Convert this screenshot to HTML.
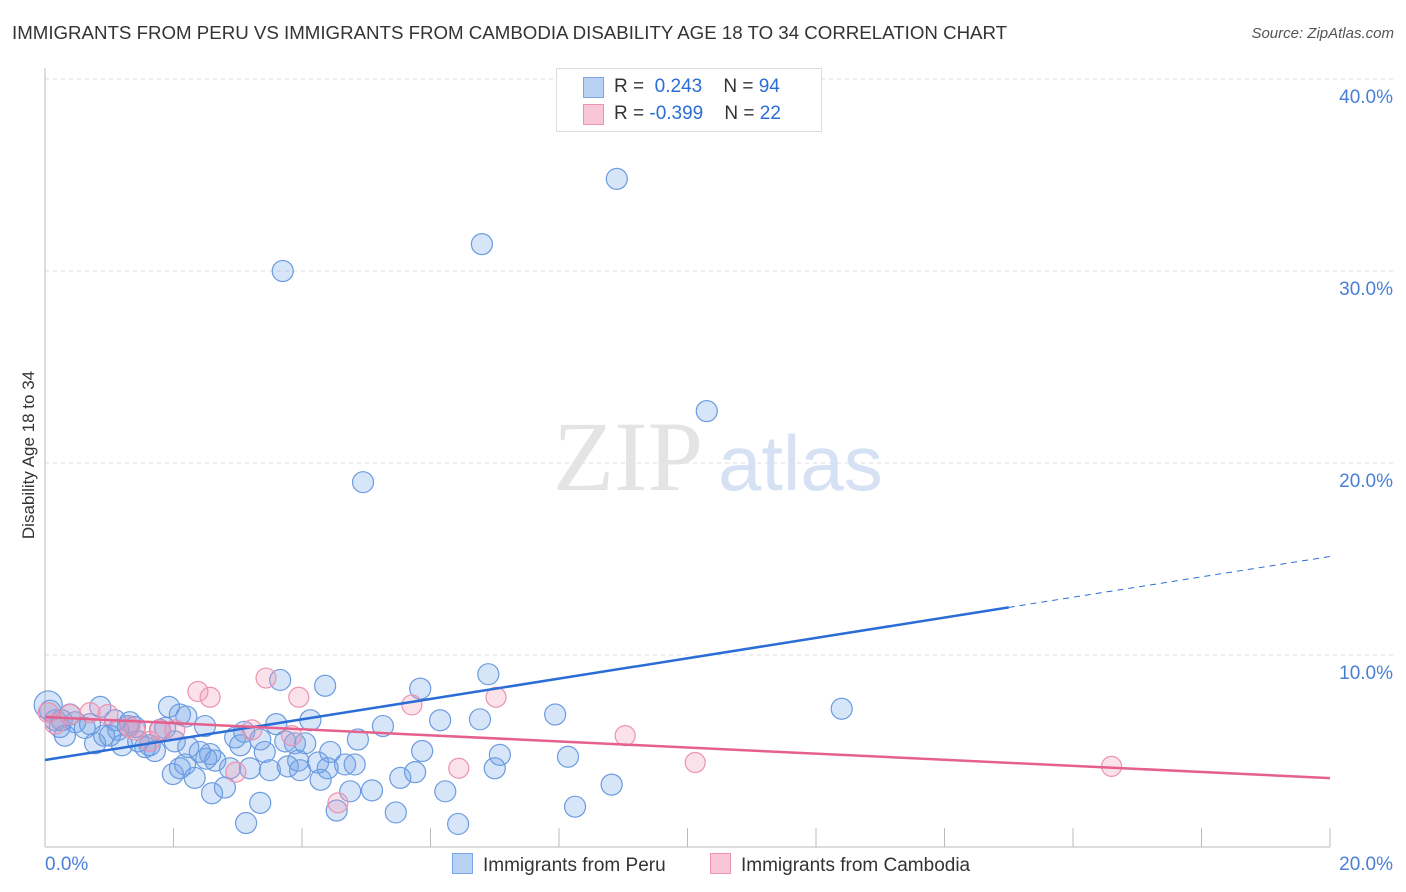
<!DOCTYPE html>
<html><head><meta charset="utf-8"><style>
body{margin:0;background:#fff;font-family:"Liberation Sans",sans-serif;}
#wrap{position:relative;width:1406px;height:892px;overflow:hidden;}
.t{position:absolute;white-space:nowrap;}
</style></head><body>
<div id="wrap">
<div class="t" style="left:12px;top:22px;font-size:18.7px;color:#333;">IMMIGRANTS FROM PERU VS IMMIGRANTS FROM CAMBODIA DISABILITY AGE 18 TO 34 CORRELATION CHART</div>
<div class="t" style="right:12px;top:25px;font-size:15px;color:#555;font-style:italic;">Source: ZipAtlas.com</div>
<svg id="svg" width="1406" height="892" style="position:absolute;left:0;top:0"></svg>
</div>
<script>
const yTicks=[10,20,30,40];
const yTickLabels=["10.0%","20.0%","30.0%","40.0%"];
const xTickLabels=["0.0%","20.0%"];
const peruX=[8.9,6.8,3.7,10.3,4.95,12.4,6.9,3.66,4.36,5.84,7.94,6.15,6.77,5.26,4.13,3.6,3.1,2.96,3.35,2.49,2.2,1.93,2.1,1.87,0.86,0.05,0.16,0.31,0.47,0.62,0.78,0.92,1.14,1.29,1.2,1.45,1.56,1.71,1.79,2.23,2.41,2.57,2.65,2.51,2.33,1.99,2.1,2.6,2.8,2.88,3.19,3.42,3.5,3.78,3.89,4.05,3.94,4.25,4.44,4.4,4.67,4.82,4.87,4.29,4.75,5.09,4.54,3.35,3.13,5.46,5.53,5.76,5.87,6.23,6.43,7.0,7.08,8.14,8.25,8.82,1.09,1.4,0.39,0.23,0.08,1.01,1.63,3.04,3.74,3.97,2.18,0.7,1.32,2.02,0.26];
const peruY=[34.8,31.4,30.0,22.7,19.0,7.2,9.0,8.7,8.4,8.25,6.9,6.6,6.65,6.3,6.6,6.4,6.0,5.7,5.6,6.3,6.8,7.3,6.9,6.2,7.3,7.4,6.6,5.8,6.5,6.2,5.4,5.8,6.1,6.3,5.3,5.5,5.2,5.0,6.1,5.2,4.95,4.84,4.5,4.6,3.6,3.8,4.1,2.8,3.1,4.1,4.1,4.95,4.0,4.2,5.4,5.4,4.5,4.4,4.95,4.1,4.3,4.3,5.6,3.5,2.9,2.95,1.9,2.3,1.25,1.8,3.6,3.9,5.0,2.9,1.2,4.1,4.8,4.7,2.1,3.25,6.6,6.25,6.9,6.25,7.1,5.8,5.3,5.3,5.5,4.0,4.3,6.4,6.5,5.5,6.6];
const cambX=[0.05,0.16,0.39,0.7,0.98,1.4,1.63,1.79,2.02,2.38,2.57,2.97,3.22,3.44,3.84,3.95,4.56,5.71,6.44,7.02,9.03,10.12,16.6,1.32];
const cambY=[7.0,6.4,6.9,7.0,6.9,6.1,5.5,6.1,6.1,8.1,7.8,3.9,6.1,8.8,5.8,7.8,2.3,7.4,4.1,7.8,5.8,4.4,4.2,6.25];
const trendPeru=[4.53,0.53];const trendCamb=[6.77,-0.159];
const NS="http://www.w3.org/2000/svg";const svg=document.getElementById('svg');
const X=v=>45+v*64.25, Y=v=>847-v*19.2;
function mk(t,a){const e=document.createElementNS(NS,t);for(const k in a)e.setAttribute(k,a[k]);svg.appendChild(e);return e;}
yTicks.forEach((v,i)=>{let g=mk('line',{x1:45,x2:1393,y1:Y(v),y2:Y(v),stroke:'#ddd','stroke-dasharray':'4,4'});

let t=mk('text',{x:1393,y:Y(v)+24,'text-anchor':'end','font-size':19,fill:'#4a7fd6','font-family':'Liberation Sans'});t.textContent=yTickLabels[i];
});
let ax=mk('line',{x1:45,x2:45,y1:68,y2:847,stroke:'#bbb'});
let bx=mk('line',{x1:45,x2:1330,y1:847,y2:847,stroke:'#bbb'});
for(let i=1;i<=10;i++){let tk=mk('line',{x1:X(i*2),x2:X(i*2),y1:828,y2:847,stroke:'#bbb'});}
let wm=mk('text',{x:553,y:490,'font-size':100,fill:'#e4e4e4','font-family':'Liberation Serif'});wm.textContent='ZIP';

let wm2=mk('text',{x:718,y:490,'font-size':78,fill:'#d6e2f4','font-family':'Liberation Sans'});wm2.textContent='atlas';

peruX.forEach((v,i)=>{let c=mk('circle',{cx:X(v),cy:Y(peruY[i]),r:i==25?14:10.5,fill:'rgba(110,160,230,0.28)',stroke:'#6b9be0','stroke-width':1.2});
});
cambX.forEach((v,i)=>{let c=mk('circle',{cx:X(v),cy:Y(cambY[i]),r:10,fill:'rgba(240,150,180,0.28)',stroke:'#eb93b0','stroke-width':1.2});
});
let l1=mk('line',{x1:X(0),y1:Y(trendPeru[0]),x2:X(15),y2:Y(trendPeru[0]+15*trendPeru[1]),stroke:'#2a6dd6','stroke-width':2.5});

let l2=mk('line',{x1:X(15),y1:Y(trendPeru[0]+15*trendPeru[1]),x2:X(20),y2:Y(trendPeru[0]+20*trendPeru[1]),stroke:'#2a6dd6','stroke-width':1,'stroke-dasharray':'6,5'});

let l3=mk('line',{x1:X(0),y1:Y(trendCamb[0]),x2:X(20),y2:Y(trendCamb[0]+20*trendCamb[1]),stroke:'#e5608c','stroke-width':2.5});

let xl=mk('text',{x:45,y:870,'font-size':19,fill:'#4a7fd6','font-family':'Liberation Sans'});xl.textContent=xTickLabels[0];
let xr=mk('text',{x:1393,y:870,'text-anchor':'end','font-size':19,fill:'#4a7fd6','font-family':'Liberation Sans'});xr.textContent=xTickLabels[1];
let yt=mk('text',{x:34,y:455,'text-anchor':'middle','font-size':17,fill:'#333','font-family':'Liberation Sans',transform:'rotate(-90 34 455)'});yt.textContent='Disability Age 18 to 34';

</script>
<div style="position:absolute;left:556px;top:68px;width:264px;height:62px;border:1px solid #ddd;background:#fff;font-size:19px;">
<div style="position:absolute;left:26px;top:8px;width:19px;height:19px;background:#b9d2f4;border:1px solid #7aa5e4;"></div>
<div class="t" style="left:57px;top:7px;color:#333">R = <span style="color:#2a6dd6">&nbsp;0.243</span>&nbsp;&nbsp;&nbsp; N = <span style="color:#2a6dd6">94</span></div>
<div style="position:absolute;left:26px;top:35px;width:19px;height:19px;background:#f8c6d6;border:1px solid #eb93b0;"></div>
<div class="t" style="left:57px;top:34px;color:#333">R = <span style="color:#2a6dd6">-0.399</span>&nbsp;&nbsp;&nbsp; N = <span style="color:#2a6dd6">22</span></div>
</div>
<div style="position:absolute;left:452px;top:853px;font-size:19px;color:#333;">
<span style="display:inline-block;width:19px;height:19px;background:#b9d2f4;border:1px solid #7aa5e4;vertical-align:-3px;margin-right:10px"></span>Immigrants from Peru</div>
<div style="position:absolute;left:710px;top:853px;font-size:19px;color:#333;">
<span style="display:inline-block;width:19px;height:19px;background:#f8c6d6;border:1px solid #eb93b0;vertical-align:-3px;margin-right:10px"></span>Immigrants from Cambodia</div>
</body></html>
